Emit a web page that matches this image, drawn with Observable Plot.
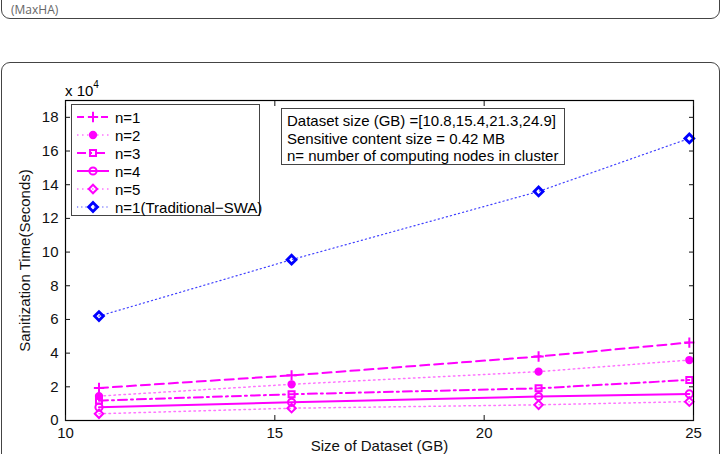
<!DOCTYPE html>
<html>
<head>
<meta charset="utf-8">
<script src="https://cdn.jsdelivr.net/npm/d3@7"></script>
<script src="https://cdn.jsdelivr.net/npm/@observablehq/plot@0.6"></script>
<style>
  html, body { margin: 0; padding: 0; background: #fff; }
  #page { position: relative; width: 723px; height: 454px; overflow: hidden; font-family: "Liberation Sans", Arial, Helvetica, sans-serif; }
  #topbox { position: absolute; left: 1px; top: -40px; width: 717px; height: 57px; border: 1px solid #444; border-radius: 9px; }
  #topbox span { position: absolute; left: 9px; bottom: 1px; font-size: 12px; line-height: 14px; color: #666; font-family: "Open Sans", "Liberation Sans", sans-serif; }
  #frame { position: absolute; left: 1px; top: 62px; width: 717px; height: 460px; border: 1px solid #444; border-radius: 9px; }
  #chart { position: absolute; left: 0; top: 0; }
  .legend { position: absolute; left: 71px; top: 104px; width: 187px; height: 110px; border: 1px solid #444; background: #fff; font-size: 15px; }
  .legend .row { position: absolute; left: 0; height: 18px; display: flex; align-items: center; }
  .legend svg { display: block; }
  .legend .lab { margin-left: 3px; white-space: nowrap; }
  .note { position: absolute; left: 281px; top: 108px; width: 284px; height: 57px; border: 1px solid #444; background: #fff; font-size: 15px; line-height: 17.5px; padding: 3px 0 0 5px; box-sizing: border-box; }
  .exp { position: absolute; left: 65px; top: 81px; font-size: 15px; }
  .exp sup { font-size: 10px; position: relative; top: -2px; }
</style>
</head>
<body>
<div id="page">
  <div id="topbox"><span>(MaxHA)</span></div>
  <div id="frame"></div>
  <div id="chart"></div>
</div>
<script>
// Data (y in seconds)
const sizes = [10.8, 15.4, 21.3, 24.9];
const seriesNames = ["n=1", "n=2", "n=3", "n=4", "n=5", "n=1(Traditional\u2212SWA)"];
const n1 = [19300, 26800, 38000, 46300];
const n2 = [14500, 21500, 29000, 35900];
const n3 = [11800, 15600, 19100, 24100];
const n4 = [7900, 10800, 14200, 15800];
const n5 = [4000, 7300, 9300, 11200];
const swa = [62000, 95500, 136000, 167500];
const yTicks = [0, 20000, 40000, 60000, 80000, 100000, 120000, 140000, 160000, 180000];
const xTicks = [10, 15, 20, 25];
const noteLines = [
  "Dataset size (GB) =[10.8,15.4,21.3,24.9]",
  "Sensitive content size = 0.42 MB",
  "n= number of computing nodes in cluster"
];

const MAG = "#ff00ff", BLUE = "#0000ff";
const styles = [
  {color: MAG, dash: "9,5", width: 2, symbol: "plus", fill: "none", r: 3.4, sw: 2},
  {color: MAG, dash: "1.5,3.5", width: 1.5, symbol: "circle", fill: MAG, r: 3.4, sw: 1.5},
  {color: MAG, dash: "9,4,2,4", width: 2, symbol: "square", fill: "none", r: 3.4, sw: 2},
  {color: MAG, dash: null, width: 2, symbol: "circle", fill: "none", r: 3.6, sw: 2},
  {color: MAG, dash: "1.5,3.5", width: 1.5, symbol: "diamond2", fill: "none", r: 3.8, sw: 2},
  {color: BLUE, dash: "1.2,3", width: 1.2, symbol: "diamond2", fill: "none", r: 4, sw: 2.8}
];
const allValues = [n1, n2, n3, n4, n5, swa];
const series = allValues.map((vals, i) => sizes.map((s, j) => ({x: s, y: vals[j], k: i})));
const opacityOf = (i, st) => i === 5 ? 0.75 : (st.dash && st.dash.startsWith("1.5") ? 0.55 : 1);

const marks = [];
series.forEach((data, i) => {
  const st = styles[i];
  marks.push(Plot.line(data, {x: "x", y: "y", stroke: st.color, strokeWidth: st.width, strokeDasharray: st.dash, strokeOpacity: opacityOf(i, st)}));
  marks.push(Plot.dot(data, {x: "x", y: "y", symbol: () => st.symbol, r: st.r, stroke: st.color, strokeWidth: st.sw, fill: st.fill}));
});

const chart = Plot.plot({
  width: 723,
  height: 454,
  marginLeft: 65,
  marginRight: 30,
  marginTop: 100,
  marginBottom: 34,
  style: {fontFamily: "'Liberation Sans', Arial, Helvetica, sans-serif", fontSize: "15px", color: "#111", background: "transparent"},
  x: {domain: [10, 25]},
  y: {domain: [0, 190000]},
  marks: [
    ...marks,
    Plot.frame({stroke: "#000", strokeWidth: 1.2}),
    Plot.axisX({ticks: xTicks, tickSize: -5, tickPadding: 12, tickFormat: d => d, label: "Size of Dataset (GB)", labelAnchor: "center", labelOffset: 30, labelArrow: "none", fill: "#111"}),
    Plot.axisX({anchor: "top", ticks: xTicks, tickSize: -5, tickFormat: () => "", label: null}),
    Plot.axisY({ticks: yTicks, tickSize: -5, tickPadding: 12, tickFormat: d => d / 10000, label: "Sanitization Time(Seconds)", labelAnchor: "center", labelOffset: 46, labelArrow: "none", fill: "#111"}),
    Plot.axisY({anchor: "right", ticks: yTicks, tickSize: -5, tickFormat: () => "", label: null})
  ]
});
document.getElementById("chart").appendChild(chart);

// exponent label
const exp = document.createElement("div");
exp.className = "exp";
exp.innerHTML = "x 10<sup>4</sup>";
document.getElementById("page").appendChild(exp);

// Legend
const leg = document.createElement("div");
leg.className = "legend";
const symMap = {plus: d3.symbolPlus, circle: d3.symbolCircle, square: d3.symbolSquare, diamond2: d3.symbolDiamond2};
seriesNames.forEach((name, i) => {
  const st = styles[i];
  const row = document.createElement("div");
  row.className = "row";
  row.style.top = (3 + i * 18) + "px";
  const ns = "http://www.w3.org/2000/svg";
  const svg = document.createElementNS(ns, "svg");
  svg.setAttribute("width", 40); svg.setAttribute("height", 18);
  const ln = document.createElementNS(ns, "line");
  ln.setAttribute("x1", 5); ln.setAttribute("x2", 37); ln.setAttribute("y1", 9); ln.setAttribute("y2", 9);
  ln.setAttribute("stroke", st.color); ln.setAttribute("stroke-width", st.width);
  if (st.dash) ln.setAttribute("stroke-dasharray", st.symbol === "plus" ? "7,5" : st.dash);
  ln.setAttribute("stroke-opacity", opacityOf(i, st));
  svg.appendChild(ln);
  const sym = document.createElementNS(ns, "path");
  sym.setAttribute("d", d3.symbol(symMap[st.symbol], Math.PI * st.r * st.r)());
  sym.setAttribute("transform", "translate(21,9)");
  sym.setAttribute("stroke", st.color); sym.setAttribute("stroke-width", st.sw);
  sym.setAttribute("fill", st.fill);
  svg.appendChild(sym);
  row.appendChild(svg);
  const lab = document.createElement("span");
  lab.className = "lab";
  lab.textContent = name;
  row.appendChild(lab);
  leg.appendChild(row);
});
document.getElementById("page").appendChild(leg);

// Note box
const note = document.createElement("div");
note.className = "note";
note.innerHTML = noteLines.map(t => `<div>${t}</div>`).join("");
document.getElementById("page").appendChild(note);
</script>
</body>
</html>
